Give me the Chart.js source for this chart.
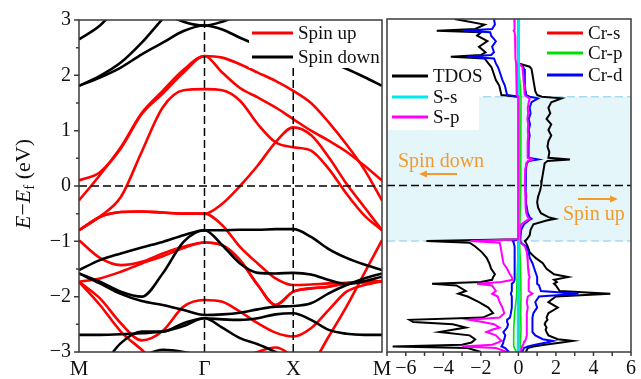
<!DOCTYPE html>
<html><head><meta charset="utf-8">
<script src="https://cdn.jsdelivr.net/npm/chart.js@4/dist/chart.umd.min.js"></script>
<style>
html,body{margin:0;padding:0;background:#fff;}
#wrap{position:relative;width:641px;height:379px;overflow:hidden;background:#fff;}
#c1{position:absolute;left:0;top:0;}
#c2{position:absolute;left:384px;top:0;}
</style></head><body>
<div id="wrap"><canvas id="c1" width="400" height="379"></canvas><canvas id="c2" width="257" height="379"></canvas></div>
<script>
// ---------- Band structure data ----------
const kPath = [0,0.236,0.471,0.707,0.943,1.178,1.414, 1.614,1.814,2.014,2.214,2.414, 2.614,2.814,3.014,3.214,3.414];
const kTicks = [0,1.414,2.414,3.414];
const kLabels = ['M','\u0393','X','M'];
const yTicksBand = [-3,-2,-1,0,1,2,3];

// spin up (red)
const up1 = [-0.26,0.2,0.7,1.32,1.72,2.1,2.35, 2.32,2.2,2.05,1.9,1.72, 1.5,1.15,0.75,0.3,-0.26];
const up2 = [0.1,0.25,0.68,1.3,1.67,2.05,2.35, 2.05,1.77,1.6,1.42,1.21, 1.0,0.82,0.62,0.37,0.1];
const up3 = [-0.8,-0.55,-0.2,0.62,1.42,1.73,1.75, 1.73,1.54,1.12,0.79,0.7, 0.64,0.31,-0.14,-0.53,-0.8];
const up4 = [-0.8,-0.56,-0.47,-0.46,-0.48,-0.5,-0.5, -0.32,0.0,0.37,0.79,1.06, 0.92,0.52,0.04,-0.38,-0.8];
const up5 = [-0.98,-1.3,-1.43,-1.37,-1.22,-1.1,-1.02, -1.07,-1.34,-1.79,-2.15,-1.91, -1.85,-1.82,-1.76,-1.74,-1.72];
const up6 = [-0.8,-0.56,-0.47,-0.46,-0.48,-0.5,-0.5, -0.71,-1.1,-1.4,-1.67,-1.79, -1.78,-1.76,-1.75,-1.73,-1.72];
const up7 = [-3.6,-3.6,-3.6,-3.6,-3.6,-3.6,-3.6, -3.6,-3.6,-3.6,-3.6,-3.5, -3.25,-2.72,-2.18,-1.58,-0.98];
const up8 = [-1.73,-1.67,-1.55,-1.4,-1.27,-1.12,-1.02, -1.07,-1.34,-1.79,-2.15,-1.91, -1.85,-1.82,-1.76,-1.74,-1.72];
const up9 = [-1.73,-2.03,-2.48,-2.79,-2.62,-2.18,-2.06, -2.09,-2.27,-2.48,-2.65,-2.72, -2.57,-2.24,-1.91,-1.79,-1.72];
const up10 = [-1.73,-2.15,-2.63,-2.96,-3.3,-3.5,-3.6, -3.4,-3.15,-3.0,-2.92,-3.1, -3.5,-3.6,-3.6,-3.6,-3.6];
// spin down (black)
const dn1 = [2.65,2.9,3.3,3.6,3.8,3.6,3.4, 3.6,3.8,3.9,3.8,3.5, 3.3,3.1,2.9,2.75,2.65];
const dn2 = [3.8,3.8,3.7,3.5,3.15,2.97,2.9, 2.97,3.1,3.3,3.5,3.6, 3.6,3.6,3.6,3.6,3.6];
const dn3 = [1.81,1.96,2.14,2.38,2.59,2.8,2.9, 2.83,2.68,2.55,2.48,2.45, 2.35,2.25,2.12,1.97,1.81];
const dn4 = [1.81,1.99,2.23,2.59,3.02,3.4,3.6, 3.6,3.6,3.6,3.6,3.6, 3.6,3.6,3.6,3.6,3.6];
const dn5 = [-1.52,-1.34,-1.22,-1.11,-1.01,-0.89,-0.8, -0.8,-0.79,-0.79,-0.78,-0.78, -0.92,-1.14,-1.3,-1.42,-1.52];
const dn6 = [-1.58,-1.73,-1.91,-2.0,-1.58,-1.01,-0.8, -1.07,-1.4,-1.57,-1.58,-1.57, -1.6,-1.7,-1.77,-1.72,-1.64];
const dn7 = [-1.58,-1.76,-1.95,-2.08,-2.15,-2.24,-2.33, -2.32,-2.29,-2.23,-2.18,-2.17, -2.12,-1.94,-1.79,-1.67,-1.58];
const dn8 = [-2.69,-2.69,-2.68,-2.66,-2.63,-2.53,-2.39, -2.41,-2.42,-2.39,-2.32,-2.3, -2.42,-2.6,-2.67,-2.69,-2.69];
const dn9 = [-3.6,-3.3,-2.84,-2.63,-2.63,-2.48,-2.39, -2.56,-2.75,-2.86,-3.0,-3.15, -3.3,-3.5,-3.6,-3.6,-3.6];
const dn10 = [-3.6,-3.6,-3.4,-3.1,-2.96,-3.0,-3.1, -3.3,-3.5,-3.6,-3.6,-3.6, -3.6,-3.6,-3.6,-3.6,-3.6];

// ---------- DOS data ----------
const dosTicks = [-6,-4,-2,0,2,4,6];
const gapTop = 1.6, gapBottom = -1.0;
const upE = [3.0,2.9,2.82,2.79,2.76,2.7,2.6,2.5,2.4,2.35,2.32,2.29,2.2,2.14,2.1,2.0,1.9,1.8,1.7,1.63,1.6,1.57,1.5,1.4,1.3,1.2,1.1,1.0,0.9,0.8,0.7,0.6,0.5,0.47,0.44,0.4,0.3,0.2,0.1,0.0,-0.1,-0.2,-0.3,-0.4,-0.5,-0.57,-0.6,-0.63,-0.7,-0.8,-0.9,-0.97,-1.0,-1.03,-1.1,-1.2,-1.3,-1.4,-1.5,-1.6,-1.65,-1.7,-1.74,-1.77,-1.8,-1.9,-1.95,-2.0,-2.1,-2.2,-2.3,-2.38,-2.42,-2.46,-2.5,-2.56,-2.6,-2.64,-2.7,-2.77,-2.8,-2.83,-2.87,-2.9,-2.93,-3.0];
const tdosUp = [0.02,0.02,0.02,0.02,0.02,0.02,0.02,0.02,0.02,0.02,0.02,0.02,0.02,0.6,0.7,0.75,0.8,0.85,0.9,1.0,1.25,2.3,1.75,1.6,1.7,1.5,1.75,1.6,1.75,1.6,1.55,1.65,1.6,2.75,1.55,1.4,1.35,1.3,1.25,1.22,1.15,1.05,1.0,1.05,1.2,1.6,1.95,1.5,0.8,0.65,0.6,0.45,0.35,0.4,0.5,0.6,0.9,1.3,1.5,1.9,2.65,1.9,2.05,1.9,2.0,2.2,4.9,2.0,1.6,2.1,1.6,1.5,1.55,1.45,1.4,1.5,1.45,1.5,1.6,2.1,2.9,2.3,1.4,0.8,0.5,0.4];
const crdUp = [0.01,0.01,0.01,0.01,0.01,0.01,0.01,0.01,0.01,0.01,0.01,0.01,0.01,0.25,0.3,0.33,0.35,0.35,0.38,0.4,0.6,1.05,0.7,0.6,0.65,0.55,0.62,0.55,0.6,0.55,0.52,0.55,0.55,1.05,0.55,0.45,0.4,0.4,0.38,0.38,0.4,0.42,0.4,0.45,0.5,0.6,0.7,0.55,0.3,0.15,0.12,0.1,0.1,0.15,0.4,0.55,0.6,0.75,0.85,0.95,1.0,1.0,1.0,1.0,1.1,1.2,3.2,1.1,0.9,1.0,0.8,0.75,0.75,0.75,0.75,0.75,0.75,0.75,0.9,1.3,1.85,1.5,0.9,0.5,0.3,0.2];
const spUp = [0.03,0.03,0.03,0.03,0.03,0.03,0.03,0.03,0.03,0.03,0.03,0.03,0.03,0.2,0.22,0.25,0.27,0.3,0.32,0.35,0.45,0.6,0.55,0.5,0.52,0.48,0.52,0.5,0.52,0.5,0.48,0.5,0.5,0.75,0.5,0.42,0.38,0.36,0.35,0.35,0.36,0.38,0.38,0.4,0.42,0.5,0.6,0.45,0.15,0.08,0.07,0.06,0.06,0.1,0.35,0.45,0.48,0.5,0.52,0.55,0.6,0.55,0.55,0.55,0.55,0.55,0.75,0.5,0.45,0.5,0.45,0.45,0.45,0.45,0.45,0.45,0.45,0.45,0.45,0.4,0.35,0.3,0.25,0.2,0.17,0.15];
const dnE = [3.0,2.9,2.82,2.79,2.76,2.7,2.6,2.5,2.4,2.35,2.32,2.29,2.2,2.14,2.1,2.0,1.9,1.8,1.7,1.63,1.6,-0.97,-1.0,-1.03,-1.1,-1.2,-1.3,-1.4,-1.5,-1.6,-1.65,-1.7,-1.74,-1.77,-1.8,-1.9,-1.95,-2.0,-2.1,-2.2,-2.3,-2.38,-2.42,-2.46,-2.5,-2.56,-2.6,-2.64,-2.7,-2.77,-2.8,-2.83,-2.87,-2.9,-2.93,-3.0];
const tdosDn = [-3.4,-1.8,-2.3,-4.35,-2.0,-2.2,-1.65,-2.1,-1.75,-2.0,-3.6,-1.8,-1.6,-1.45,-1.4,-1.3,-1.2,-1.02,-0.95,-0.9,0,0,-4.9,-2.6,-2.3,-1.95,-1.7,-1.55,-1.45,-1.25,-1.35,-1.4,-2.0,-4.6,-3.3,-2.8,-3.2,-2.7,-2.1,-1.6,-1.35,-1.9,-5.8,-5.6,-3.5,-2.8,-3.5,-4.2,-2.6,-2.3,-2.4,-2.5,-3.0,-6.7,-2.7,-2.0];
const crdDn = [-1.3,-1.25,-1.4,-2.9,-1.5,-1.45,-1.2,-1.4,-1.3,-1.45,-2.75,-1.3,-1.2,-1.1,-1.05,-0.95,-0.85,-0.72,-0.65,-0.6,0,0,-0.3,-0.25,-0.2,-0.2,-0.2,-0.2,-0.2,-0.2,-0.2,-0.2,-0.25,-0.35,-0.35,-0.35,-0.4,-0.35,-0.35,-0.35,-0.4,-0.45,-0.6,-0.6,-0.55,-0.6,-0.7,-0.8,-0.7,-0.75,-0.8,-0.8,-0.85,-0.9,-0.7,-0.5];
const spDn = [-0.22,-0.2,-0.2,-0.25,-0.2,-0.18,-0.17,-0.16,-0.15,-0.15,-0.18,-0.14,-0.12,-0.11,-0.1,-0.1,-0.09,-0.08,-0.08,-0.08,0,0,-2.55,-1.0,-0.95,-0.9,-0.85,-0.8,-0.6,-0.45,-0.35,-0.3,-0.9,-2.2,-1.4,-1.2,-1.4,-1.1,-1.0,-0.85,-0.75,-1.0,-2.6,-1.9,-1.3,-1.0,-1.4,-1.7,-1.2,-1.0,-0.9,-1.1,-1.4,-3.0,-1.2,-0.6];
const crpE = [3.0,2.2,1.6,1.0,0.0,-1.0,-1.5,-2.0,-2.3,-2.6,-2.9,-3.0];
const crpUp = [0.01,0.01,0.14,0.13,0.13,0.06,0.12,0.14,0.12,0.14,0.1,0.06];
const crpDn = [-0.02,-0.02,0,0,0,0,-0.05,-0.1,-0.2,-0.25,-0.25,-0.1];
const ssE = [3.0,1.6,-1.0,-2.0,-3.0];
const ssUp = [0.04,0.03,0.03,0.04,0.04];
const ssDn = [-0.02,0,0,-0.03,-0.04];
const crsE = [3.0,-3.0];
const crsUp = [0.01,0.01];
const crsDn = [-0.01,-0.01];

// ---------- common ----------
const FF = "'Liberation Serif','Times New Roman',serif";
const TXT = '#111';
const fmt = v => v < 0 ? '\u2212' + (-v) : String(v);
Chart.defaults.color = TXT;

// ---------- band chart ----------
const mkBand = (arr, color) => ({
  data: arr.map((e, i) => ({x: kPath[i], y: e})),
  borderColor: color, borderWidth: 2.6, pointRadius: 0, showLine: true,
  fill: false, cubicInterpolationMode: 'monotone'
});
const dnBands = [dn1,dn2,dn3,dn4,dn5,dn6,dn7,dn8,dn9,dn10];
const upBands = [up1,up2,up3,up4,up5,up6,up7,up8,up9,up10];
const bandSets = [...dnBands.map(b => mkBand(b, '#000000')), ...upBands.map(b => mkBand(b, '#ff0000'))];

function drawYTitle(ctx) {
  ctx.save();
  ctx.translate(30, 184);
  ctx.rotate(-Math.PI / 2);
  const s = 22;
  const parts = [
    {t:'E', f:`italic ${s}px ${FF}`, dy:0},
    {t:'\u2212', f:`${s}px ${FF}`, dy:0},
    {t:'E', f:`italic ${s}px ${FF}`, dy:0},
    {t:'f', f:`${Math.round(s*0.68)}px ${FF}`, dy:4},
    {t:' (eV)', f:`${s}px ${FF}`, dy:0}
  ];
  let total = 0;
  parts.forEach(p => { ctx.font = p.f; p.w = ctx.measureText(p.t).width; total += p.w; });
  let x = -total / 2;
  ctx.fillStyle = TXT; ctx.textBaseline = 'alphabetic';
  parts.forEach(p => { ctx.font = p.f; ctx.fillText(p.t, x, 0 + p.dy); x += p.w; });
  ctx.restore();
}

const bandDeco = {
  id: 'bandDeco',
  afterDatasetsDraw(chart) {
    const {ctx, chartArea: a, scales: {x, y}} = chart;
    ctx.save();
    ctx.strokeStyle = '#000'; ctx.lineWidth = 1.5; ctx.setLineDash([8, 4]);
    const y0 = y.getPixelForValue(0);
    ctx.beginPath(); ctx.moveTo(a.left, y0); ctx.lineTo(a.right, y0); ctx.stroke();
    [kTicks[1], kTicks[2]].forEach(k => {
      const px = x.getPixelForValue(k);
      ctx.beginPath(); ctx.moveTo(px, a.top); ctx.lineTo(px, a.bottom); ctx.stroke();
    });
    ctx.setLineDash([]);
    ctx.fillStyle = '#fff';
    ctx.fillRect(249, a.top, a.right - 249, 68 - a.top);
    const items = [['Spin up', '#ff0000', 33], ['Spin down', '#000000', 57]];
    ctx.font = `19px ${FF}`; ctx.textBaseline = 'middle';
    items.forEach(([t, c, yy]) => {
      ctx.strokeStyle = c; ctx.lineWidth = 3;
      ctx.beginPath(); ctx.moveTo(252, yy); ctx.lineTo(293, yy); ctx.stroke();
      ctx.fillStyle = TXT; ctx.fillText(t, 298, yy + 1);
    });
    ctx.strokeStyle = '#3a3a3a'; ctx.lineWidth = 1.5;
    ctx.strokeRect(a.left, a.top, a.right - a.left, a.bottom - a.top);
    ctx.beginPath();
    for (let v = -3; v <= 3.001; v += 0.5) {
      const py = y.getPixelForValue(v);
      const len = Math.abs(v - Math.round(v)) < 1e-6 ? 5 : 3;
      ctx.moveTo(a.left - len, py); ctx.lineTo(a.left, py);
    }
    ctx.stroke();
    drawYTitle(ctx);
    ctx.restore();
  }
};

new Chart(document.getElementById('c1'), {
  type: 'scatter',
  data: {datasets: bandSets},
  options: {
    responsive: false, animation: false, devicePixelRatio: 1,
    layout: {padding: {left: 0, right: 18, top: 19, bottom: 0}},
    plugins: {legend: {display: false}, tooltip: {enabled: false}},
    scales: {
      x: {
        type: 'linear', min: 0, max: 3.414,
        afterFit(s) { s.height = 27; },
        afterBuildTicks(s) { s.ticks = kTicks.map(v => ({value: v})); },
        ticks: {callback: (v, i) => kLabels[i], font: {family: FF, size: 21}, color: TXT, padding: 5, maxRotation: 0, autoSkip: false},
        grid: {display: false, drawTicks: false}, border: {display: false}
      },
      y: {
        min: -3, max: 3,
        afterFit(s) { s.width = 79; },
        afterBuildTicks(s) { s.ticks = yTicksBand.map(v => ({value: v})); },
        ticks: {callback: v => fmt(v), font: {family: FF, size: 20}, color: TXT, padding: 8},
        grid: {display: false, drawTicks: false}, border: {display: false}
      }
    }
  },
  plugins: [bandDeco]
});

// ---------- DOS chart ----------
const mkDos = (E, vals, color, w) => ({
  data: vals.map((v, i) => ({x: v, y: E[i]})),
  borderColor: color, borderWidth: w, pointRadius: 0, showLine: true, fill: false, tension: 0
});
// first dataset is drawn on top
const dosSets = [
  mkDos(dnE, spDn, '#ff00ff', 2),
  mkDos(ssE, ssUp, '#00e8f0', 1.8), mkDos(ssE, ssDn, '#00e8f0', 1.8),
  mkDos(upE, spUp, '#ff00ff', 2),
  mkDos(crpE, crpUp, '#00e000', 1.6), mkDos(crpE, crpDn, '#00e000', 1.6),
  mkDos(upE, crdUp, '#0000ff', 2), mkDos(dnE, crdDn, '#0000ff', 2),
  mkDos(crsE, crsUp, '#ff0000', 1.5), mkDos(crsE, crsDn, '#ff0000', 1.5),
  mkDos(upE, tdosUp, '#000000', 2), mkDos(dnE, tdosDn, '#000000', 2)
];

function arrow(ctx, x1, x2, yy) {
  ctx.beginPath(); ctx.moveTo(x1, yy); ctx.lineTo(x2, yy); ctx.stroke();
  const d = x2 > x1 ? 1 : -1;
  ctx.beginPath(); ctx.moveTo(x2 + d * 3, yy); ctx.lineTo(x2 - d * 5, yy - 3.5); ctx.lineTo(x2 - d * 5, yy + 3.5); ctx.closePath(); ctx.fill();
}

const dosDeco = {
  id: 'dosDeco',
  beforeDatasetsDraw(chart) {
    const {ctx, chartArea: a, scales: {y}} = chart;
    ctx.save();
    const y1 = y.getPixelForValue(gapTop), y2 = y.getPixelForValue(gapBottom);
    ctx.fillStyle = '#e5f6fb';
    ctx.fillRect(a.left, y1, a.right - a.left, y2 - y1);
    ctx.strokeStyle = '#a6dbef'; ctx.lineWidth = 1.5; ctx.setLineDash([8, 4]);
    [y1, y2].forEach(py => { ctx.beginPath(); ctx.moveTo(a.left, py); ctx.lineTo(a.right, py); ctx.stroke(); });
    ctx.strokeStyle = '#000';
    const y0 = y.getPixelForValue(0);
    ctx.beginPath(); ctx.moveTo(a.left, y0); ctx.lineTo(a.right, y0); ctx.stroke();
    ctx.restore();
  },
  afterDatasetsDraw(chart) {
    const {ctx, chartArea: a, scales: {x}} = chart;
    ctx.save();
    ctx.fillStyle = '#fff';
    ctx.fillRect(a.left + 1, 62, 94 - a.left, 130 - 62);
    ctx.font = `19px ${FF}`; ctx.textBaseline = 'middle';
    const leg = [['TDOS', '#000000', 76, 8], ['S-s', '#00e8f0', 97, 8], ['S-p', '#ff00ff', 117, 8],
                 ['Cr-s', '#ff0000', 33, 163], ['Cr-p', '#00e000', 53, 163], ['Cr-d', '#0000ff', 75, 163]];
    leg.forEach(([t, c, yy, lx]) => {
      ctx.strokeStyle = c; ctx.lineWidth = 3;
      ctx.beginPath(); ctx.moveTo(lx, yy); ctx.lineTo(lx + 36, yy); ctx.stroke();
      ctx.fillStyle = TXT; ctx.fillText(t, lx + 41, yy + 1);
    });
    const OR = '#f39a2e';
    ctx.fillStyle = OR; ctx.strokeStyle = OR; ctx.lineWidth = 1.8;
    ctx.font = `20px ${FF}`;
    ctx.fillText('Spin down', 14, 162);
    arrow(ctx, 73, 38, 174);
    ctx.fillText('Spin up', 179, 215);
    arrow(ctx, 194, 231, 199);
    ctx.strokeStyle = '#3a3a3a'; ctx.lineWidth = 1.5;
    ctx.strokeRect(a.left, a.top, a.right - a.left, a.bottom - a.top);
    ctx.beginPath();
    for (let v = -7; v <= 6; v++) {
      const px = x.getPixelForValue(v);
      ctx.moveTo(px, a.bottom); ctx.lineTo(px, a.bottom + 4);
    }
    ctx.stroke();
    ctx.restore();
  }
};

new Chart(document.getElementById('c2'), {
  type: 'scatter',
  data: {datasets: dosSets},
  options: {
    responsive: false, animation: false, devicePixelRatio: 1,
    layout: {padding: {left: 3, right: 10, top: 19, bottom: 0}},
    plugins: {legend: {display: false}, tooltip: {enabled: false}},
    scales: {
      x: {
        type: 'linear', min: -7, max: 6,
        afterFit(s) { s.height = 27; },
        afterBuildTicks(s) { s.ticks = dosTicks.map(v => ({value: v})); },
        ticks: {callback: v => fmt(v), font: {family: FF, size: 20}, color: TXT, padding: 5, maxRotation: 0, autoSkip: false},
        grid: {display: false, drawTicks: false}, border: {display: false}
      },
      y: {min: -3, max: 3, display: false}
    }
  },
  plugins: [dosDeco]
});
</script>
</body></html>
